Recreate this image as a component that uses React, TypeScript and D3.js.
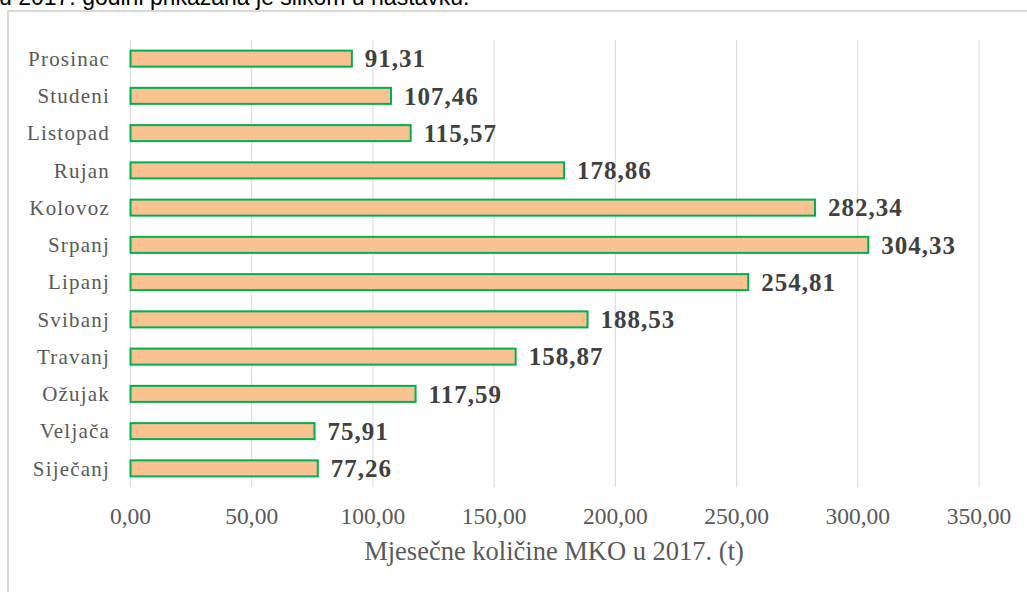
import React from "react";
import * as d3 from "d3";

// Chart data
const months = [
  "Siječanj",
  "Veljača",
  "Ožujak",
  "Travanj",
  "Svibanj",
  "Lipanj",
  "Srpanj",
  "Kolovoz",
  "Rujan",
  "Listopad",
  "Studeni",
  "Prosinac",
];
const amounts = [77.26, 75.91, 117.59, 158.87, 188.53, 254.81, 304.33, 282.34, 178.86, 115.57, 107.46, 91.31];
const xTicks = [0, 50, 100, 150, 200, 250, 300, 350];
const axisTitle = "Mjesečne količine MKO u 2017. (t)";
const captionText = "u 2017. godini prikazana je slikom u nastavku.";

const W = 1027;
const H = 592;

const fmt = (v: number) => v.toFixed(2).replace(".", ",");

const App: React.FC = () => {
  const x = d3.scaleLinear().domain([0, 350]).range([130.5, 979]);
  // top-down order: Prosinac first
  const order = [...months].reverse();
  const y = d3.scaleBand<string>().domain(order).range([40, 487]).paddingInner(0.57).paddingOuter(0.285);

  const serif = "Liberation Serif, Times New Roman, serif";

  return (
    <svg width={W} height={H} style={{ position: "absolute", left: 0, top: 0 }}>
      <rect x={0} y={0} width={W} height={H} fill="#ffffff" />
      <text x={-1} y={5} fontFamily="Liberation Sans, Arial, sans-serif" fontSize={23} fill="#000">
        {captionText}
      </text>
      <rect x={8} y={11} width={1030} height={600} fill="#fff" stroke="#d9d9d9" strokeWidth={2} />

      {/* gridlines */}
      {xTicks.map((t) => (
        <line key={t} x1={x(t)} x2={x(t)} y1={40} y2={487} stroke="#d9d9d9" strokeWidth={1} />
      ))}

      {/* bars */}
      {months.map((m, i) => (
        <g key={m}>
          <rect
            x={x(0)}
            y={y(m)!}
            width={x(amounts[i]) - x(0)}
            height={y.bandwidth()}
            fill="#f8c291"
            stroke="#00b050"
            strokeWidth={2}
          />
          <text
            x={x(amounts[i]) + 13}
            y={y(m)! + y.bandwidth() / 2}
            dy="0.35em"
            fontFamily={serif}
            fontWeight="bold"
            fontSize={25}
            letterSpacing={1}
            fill="#404040"
          >
            {fmt(amounts[i])}
          </text>
          <text
            x={110}
            y={y(m)! + y.bandwidth() / 2}
            dy="0.35em"
            textAnchor="end"
            fontFamily={serif}
            fontSize={21}
            letterSpacing={1.2}
            fill="#595959"
          >
            {m}
          </text>
        </g>
      ))}

      {/* x tick labels */}
      {xTicks.map((t) => (
        <text
          key={"l" + t}
          x={x(t)}
          y={524}
          textAnchor="middle"
          fontFamily={serif}
          fontSize={23.5}
          fill="#595959"
        >
          {fmt(t)}
        </text>
      ))}

      <text x={554} y={560} textAnchor="middle" fontFamily={serif} fontSize={26.5} fill="#595959">
        {axisTitle}
      </text>
    </svg>
  );
};

export default App;
